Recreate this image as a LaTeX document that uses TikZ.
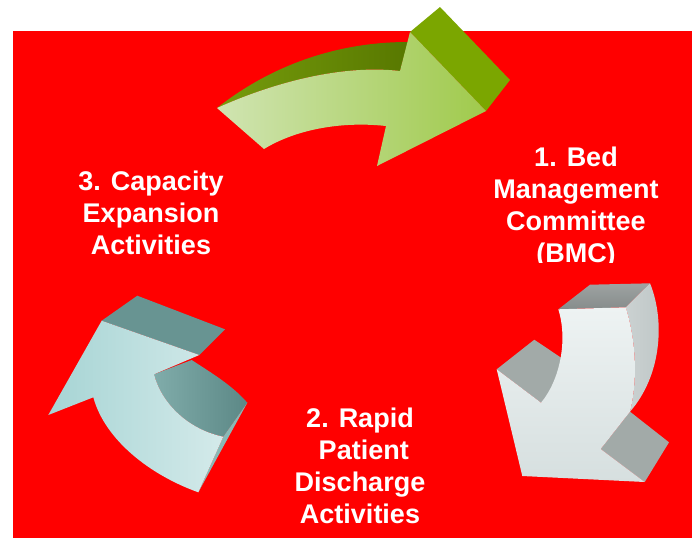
\documentclass[tikz,border=0pt]{standalone}
\usepackage{fontspec}
\setmainfont{Liberation Sans}

\definecolor{bgred}{RGB}{255,0,0}
% green arrow
\definecolor{grnfront1}{RGB}{208,228,178}
\definecolor{grnfront2}{RGB}{160,202,76}
\definecolor{grntop1}{RGB}{118,156,12}
\definecolor{grntop2}{RGB}{88,120,0}
\definecolor{grnside}{RGB}{123,166,0}
% grey arrow
\definecolor{grayfront1}{RGB}{238,243,243}
\definecolor{grayfront2}{RGB}{214,223,223}
\definecolor{graytop}{RGB}{134,140,139}
\definecolor{graycurve}{RGB}{190,198,198}
\definecolor{graywing}{RGB}{162,170,168}
% teal arrow
\definecolor{tealfront1}{RGB}{166,212,212}
\definecolor{tealfront2}{RGB}{212,234,234}
\definecolor{tealtop}{RGB}{104,148,146}
\definecolor{tealinner1}{RGB}{128,172,170}
\definecolor{tealinner2}{RGB}{92,136,134}
\definecolor{tealend}{RGB}{138,184,182}

\begin{document}
\begin{tikzpicture}[x=1pt,y=-1pt,
  lbl/.style={text=white,font=\bfseries\fontsize{27}{32}\selectfont,align=center,inner sep=0pt}]

% Background
\fill[white] (0,0) rectangle (692,538);
\fill[bgred] (13,31) rectangle (692,538);

% Green arrow (top)
\fill[grnside] (410,32) -- (440,7) -- (510,80) -- (486,111) -- cycle;
\shade[left color=grntop1,right color=grntop2] (217,108) .. controls (265,70) and (330,42) .. (408,42)
  -- (400,71) .. controls (340,64) and (270,84) .. (217,108) -- cycle;
\shade[left color=grnfront1,right color=grnfront2] (217,108) .. controls (270,84) and (340,64) .. (400,71)
  -- (410,32) -- (486,111) -- (377,166) -- (386,126)
  .. controls (340,121) and (295,130) .. (264,149) -- cycle;

% Grey arrow (right)
\shade[top color=graytop!80!white,bottom color=graytop] (558.3,309.3) -- (590,284.7) -- (650,283.3) -- (625.7,307.3) -- cycle;
\fill[graywing] (496.7,369.3) -- (534.3,339.7) -- (566,361) -- (562,380) -- (541,402.7) -- cycle;
\shade[left color=graycurve!80!white,right color=graycurve] (625.7,307.3) -- (650,283.3)
  .. controls (665,320) and (662,375) .. (630,411.7)
  .. controls (638,380) and (636,340) .. (625.7,307.3) -- cycle;
\fill[graywing] (630,411.7) -- (669,442.3) -- (644.7,482) -- (600.7,449) -- cycle;
\shade[top color=grayfront1,bottom color=grayfront2] (558.3,309.3) -- (625.7,307.3)
  .. controls (636,340) and (638,380) .. (630,411.7) -- (600.7,449) -- (644.7,482)
  -- (522.3,476) -- (496.7,369.3) -- (541,402.7)
  .. controls (560,380) and (568,340) .. (558.3,309.3) -- cycle;

% Teal arrow (left)
\fill[tealtop] (101.7,320.7) -- (137.3,295.7) -- (225,329.3) -- (199.3,355) -- cycle;
\shade[left color=tealinner1,right color=tealinner2] (154,374.3) -- (191.7,360)
  .. controls (210,372) and (232,385) .. (247.3,402.7) -- (223.3,436.7)
  .. controls (190,430) and (162,405) .. (154,374.3) -- cycle;
\fill[tealend] (223.3,436.7) -- (247.3,402.7) -- (198.3,492.3) -- cycle;
\shade[left color=tealfront1,right color=tealfront2] (101.7,320.7) -- (199.3,355) -- (154,374.3)
  .. controls (162,405) and (190,430) .. (223.3,436.7) -- (198.3,492.3)
  .. controls (150,475) and (105,440) .. (93.3,397.3) -- (48.3,415) -- cycle;

% Labels
\node[lbl] (capacity) at (151,212.5) {3. Capacity\\Expansion\\Activities};
\begin{scope}
  \clip (480,120) rectangle (692,262);
  \node[lbl] (bmc) at (576,207.5) {1. Bed\\Management\\Committee\\(BMC)};
\end{scope}
\node[lbl] (rapid) at (360,466) {2. Rapid\\\ Patient\\Discharge\\Activities};

\end{tikzpicture}
\end{document}
